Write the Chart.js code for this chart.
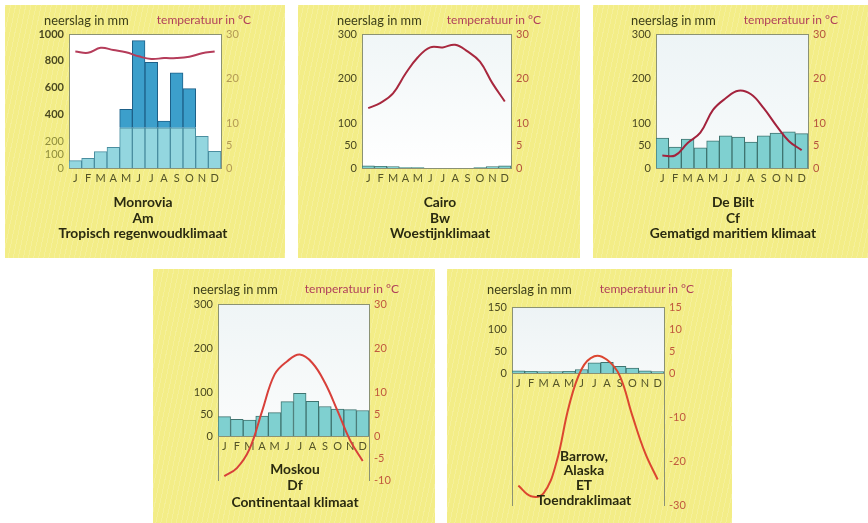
<!DOCTYPE html>
<html>
<head>
<meta charset="utf-8">
<title>Klimaatdiagrammen</title>
<script src="https://cdn.jsdelivr.net/npm/chart.js@4"></script>
<style>
  body { margin: 0; background: #fff; font-family: Lato, sans-serif; }
  #wrap { position: relative; width: 868px; height: 523px; overflow: hidden; }
  .panel {
    position: absolute;
    background-color: #f3ed87;
    background-image: repeating-linear-gradient(102deg, rgba(255,255,255,0.16) 0 1px, rgba(255,255,255,0) 1px 5px);
  }
  .panel canvas { position: absolute; left: 0; top: 0; }
  .hdr { position: absolute; line-height: 14px; white-space: nowrap; }
  .hdr.rain { color: #3c3e18; font-size: 12.8px; }
  .hdr.temp { color: #b0405a; font-size: 12px; transform: translateX(-100%); }
  .title {
    position: absolute; transform: translateX(-50%);
    text-align: center; white-space: nowrap;
    font-weight: bold; font-size: 13.8px; color: #2a2a10;
  }
</style>
</head>
<body>
<div id="wrap"></div>
<script>
// month letters on every x axis
const months = ['J','F','M','A','M','J','J','A','S','O','N','D'];

// precipitation (mm) and temperature (°C) per station
const monroviaRain = [55, 72, 122, 154, 438, 950, 789, 351, 711, 592, 236, 124];
const monroviaTemp = [26.1, 25.8, 26.9, 26.4, 25.9, 25.0, 24.4, 24.6, 24.6, 24.9, 25.7, 26.1];
const cairoRain = [5, 4, 3, 1, 1, 0, 0, 0, 0, 1, 3, 5];
const cairoTemp = [13.4, 14.6, 16.7, 21.1, 24.8, 27.0, 27.0, 27.6, 26.1, 23.8, 19.0, 14.9];
const debiltRain = [67, 47, 65, 45, 61, 72, 69, 58, 72, 78, 81, 77];
const debiltTemp = [2.8, 2.8, 5.6, 7.9, 13.0, 15.6, 17.3, 16.5, 13.4, 9.5, 6.0, 4.0];
const moskouRain = [44, 38, 36, 45, 53, 78, 97, 79, 67, 61, 60, 58];
const moskouTemp = [-9.1, -7.3, -3.0, 5.6, 14.0, 17.0, 18.5, 16.6, 12.1, 5.7, -1.0, -5.7];
const barrowRain = [5, 4, 3, 3, 4, 8, 23, 24, 15, 11, 5, 3];
const barrowTemp = [-25.6, -28.0, -27.3, -20.4, -7.5, 0.9, 3.8, 3.0, -0.6, -9.7, -18.1, -24.2];

// tick labels
const monroviaRainTicks = [0, 100, 200, 400, 600, 800, 1000];
const rainTicks300 = [0, 50, 100, 200, 300];
const barrowRainTicks = [0, 50, 100, 150];
const tempTicks30 = [0, 5, 10, 20, 30];
const moskouTempTicks = [-10, -5, 0, 5, 10, 20, 30];
const barrowTempTicks = [-30, -20, -10, 0, 5, 10, 15];

// Monrovia: light part up to 300 mm, dark part above it
const RAIN_SPLIT = 300;

// layout of the five panels (page pixels)
const panels = [
  { box: [5, 5, 280, 253], plot: [69, 34, 221, 168], hdrY: 20,
    rain: monroviaRain, temp: monroviaTemp, rainRange: [0, 1000], tempRange: [0, 30],
    rainTicks: monroviaRainTicks, tempTicks: tempTicks30, split: true,
    line: '#b53c5a', bg: ['#ffffff', '#ffffff'], rightColor: '#b39a55',
    title: ['Monrovia', 'Am', 'Tropisch regenwoudklimaat'], titleX: 143, titleY: 202, lineH: 15.5 },
  { box: [298, 5, 282, 253], plot: [362, 34, 511, 168], hdrY: 20,
    rain: cairoRain, temp: cairoTemp, rainRange: [0, 300], tempRange: [0, 30],
    rainTicks: rainTicks300, tempTicks: tempTicks30,
    line: '#a8283e', bg: ['#f0f6f7', '#ffffff'], rightColor: '#b5533e',
    title: ['Cairo', 'Bw', 'Woestijnklimaat'], titleX: 440, titleY: 202, lineH: 15.5 },
  { box: [593, 5, 275, 253], plot: [656, 34, 808, 168], hdrY: 20,
    rain: debiltRain, temp: debiltTemp, rainRange: [0, 300], tempRange: [0, 30],
    rainTicks: rainTicks300, tempTicks: tempTicks30,
    line: '#a3223c', bg: ['#edf4f6', '#f8fbfb'], rightColor: '#b5533e',
    title: ['De Bilt', 'Cf', 'Gematigd maritiem klimaat'], titleX: 733, titleY: 202, lineH: 15.5 },
  { box: [153, 269, 282, 254], plot: [218, 304, 369, 480], hdrY: 289,
    rain: moskouRain, temp: moskouTemp, rainRange: [-100, 300], tempRange: [-10, 30],
    rainTicks: rainTicks300, tempTicks: moskouTempTicks,
    line: '#d8403a', bg: ['#eff5f6', '#fbfcfc'], rightColor: '#c0583e',
    title: ['Moskou', 'Df', 'Continentaal klimaat'], titleX: 295, titleY: 469, lineH: 16.5 },
  { box: [447, 269, 285, 254], plot: [512, 307, 664, 505], hdrY: 289,
    rain: barrowRain, temp: barrowTemp, rainRange: [-300, 150], tempRange: [-30, 15],
    rainTicks: barrowRainTicks, tempTicks: barrowTempTicks,
    line: '#dc4630', bg: ['#edf3f5', '#f6f9f9'], rightColor: '#c0583e',
    title: ['Barrow,', 'Alaska', 'ET', 'Toendraklimaat'], titleX: 584, titleY: 456, lineH: 14.7 }
];

// white plot field from the top down to 0 mm, with its frame
const plotBg = {
  id: 'plotBg',
  beforeDraw(chart, args, opts) {
    const { ctx, chartArea: a, scales } = chart;
    const y0 = Math.round(scales.yP.getPixelForValue(0)) + 0.5;
    ctx.save();
    const g = ctx.createLinearGradient(0, a.top, 0, y0);
    g.addColorStop(0, opts.colors[0]);
    g.addColorStop(1, opts.colors[1]);
    ctx.fillStyle = g;
    ctx.fillRect(a.left, a.top, a.right - a.left, y0 - a.top);
    ctx.strokeStyle = '#8b9274';
    ctx.lineWidth = 1;
    ctx.beginPath();
    ctx.moveTo(a.left, a.top + 0.5);
    ctx.lineTo(a.right, a.top + 0.5);
    ctx.moveTo(a.left, y0);
    ctx.lineTo(a.right, y0);
    ctx.stroke();
    ctx.restore();
  }
};

const wrap = document.getElementById('wrap');

function addText(cls, text, left, top) {
  const d = document.createElement('div');
  d.className = cls;
  d.textContent = text;
  d.style.left = left + 'px';
  d.style.top = top + 'px';
  wrap.appendChild(d);
  return d;
}

panels.forEach(p => {
  const [bx, by, bw, bh] = p.box;
  const [pl, pt, pr, pb] = p.plot;

  const div = document.createElement('div');
  div.className = 'panel';
  div.style.left = bx + 'px';
  div.style.top = by + 'px';
  div.style.width = bw + 'px';
  div.style.height = bh + 'px';
  const canvas = document.createElement('canvas');
  canvas.width = bw;
  canvas.height = bh;
  canvas.style.width = bw + 'px';
  canvas.style.height = bh + 'px';
  div.appendChild(canvas);
  wrap.appendChild(div);

  const leftW = pl - bx;
  const rightW = bx + bw - pr;

  let datasets;
  if (p.split) {
    datasets = [
      { type: 'bar', data: p.rain.map(v => Math.min(v, RAIN_SPLIT)), yAxisID: 'yP', order: 2,
        backgroundColor: '#93d6df', borderColor: '#4a8ea0', borderWidth: 1 },
      { type: 'bar', data: p.rain.map(v => Math.max(v - RAIN_SPLIT, 0)), yAxisID: 'yP', order: 2,
        backgroundColor: '#3c9fcb', borderColor: '#1d6088', borderWidth: 1 }
    ];
  } else {
    datasets = [
      { type: 'bar', data: p.rain, yAxisID: 'yP', order: 2,
        backgroundColor: '#7fd0d0', borderColor: '#3f7470', borderWidth: 1 }
    ];
  }
  datasets.push({
    type: 'line', data: p.temp, yAxisID: 'yT', order: 1,
    borderColor: p.line, borderWidth: 2, pointRadius: 0, tension: 0.4, fill: false
  });

  const leftFont = ctx => {
    if (p.split && ctx.tick && ctx.tick.value >= 400) return { family: 'Lato', size: 11, weight: 'bold' };
    return { family: 'Lato', size: 11 };
  };
  const leftColor = ctx => {
    if (p.split && ctx.tick && ctx.tick.value < 400) return '#8f8d3c';
    return '#4a4820';
  };

  new Chart(canvas, {
    data: { labels: months, datasets: datasets },
    plugins: [plotBg],
    options: {
      responsive: false,
      animation: false,
      events: [],
      layout: { padding: { left: 0, right: 0, top: pt - by, bottom: by + bh - pb } },
      plugins: {
        legend: { display: false },
        tooltip: { enabled: false },
        plotBg: { colors: p.bg }
      },
      datasets: { bar: { barPercentage: 1, categoryPercentage: 1 } },
      scales: {
        x: {
          type: 'category',
          position: { yP: 0 },
          offset: true,
          stacked: true,
          grid: { display: false, drawTicks: false },
          border: { display: false },
          ticks: { padding: 4, autoSkip: false, maxRotation: 0,
                   font: { family: 'Lato', size: 11 }, color: '#545427' },
          afterFit: s => { s.height = 0; }
        },
        yP: {
          type: 'linear',
          position: 'left',
          min: p.rainRange[0],
          max: p.rainRange[1],
          stacked: true,
          grid: { display: false, drawTicks: false },
          border: { display: true, color: '#8b9274', width: 1 },
          ticks: { padding: 5, font: leftFont, color: leftColor, callback: v => String(v) },
          afterBuildTicks: s => { s.ticks = p.rainTicks.map(v => ({ value: v })); },
          afterFit: s => { s.width = leftW; }
        },
        yT: {
          type: 'linear',
          position: 'right',
          min: p.tempRange[0],
          max: p.tempRange[1],
          grid: { display: false, drawTicks: false },
          border: { display: true, color: '#8b9274', width: 1 },
          ticks: { padding: 5, font: { family: 'Lato', size: 11 }, color: p.rightColor,
                   callback: v => String(v) },
          afterBuildTicks: s => { s.ticks = p.tempTicks.map(v => ({ value: v })); },
          afterFit: s => { s.width = rightW; }
        }
      }
    }
  });

  // axis headers and station name
  addText('hdr rain', 'neerslag in mm', pl - 25, p.hdrY - 7);
  addText('hdr temp', 'temperatuur in °C', pr + 30, p.hdrY - 7);
  const t = document.createElement('div');
  t.className = 'title';
  t.style.left = p.titleX + 'px';
  t.style.top = (p.titleY - p.lineH / 2) + 'px';
  t.style.lineHeight = p.lineH + 'px';
  t.innerHTML = p.title.join('<br>');
  wrap.appendChild(t);
});
</script>
</body>
</html>
